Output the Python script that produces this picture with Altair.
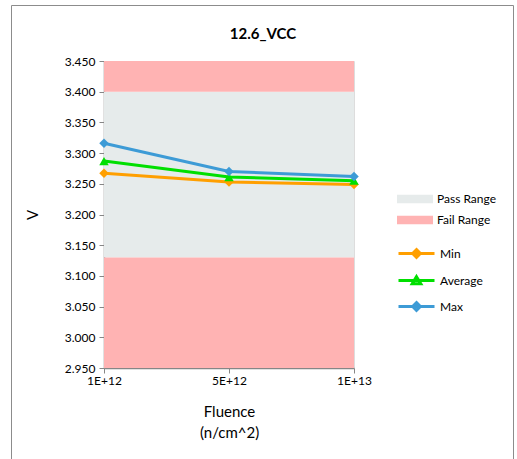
import altair as alt
import pandas as pd

FONT = "Lato"

# Measurements per fluence step
fluence = ["1E+12", "5E+12", "1E+13"]
v_min = [3.267, 3.253, 3.249]
v_avg = [3.287, 3.261, 3.255]
v_max = [3.316, 3.270, 3.262]

series_names = ["Min", "Average", "Max"]
series_colors = ["#ff9f00", "#00df00", "#3d9bd6"]
series_shapes = ["diamond", "triangle-up", "diamond"]

# Pass / fail limit bands
band_names = ["Pass Range", "Fail Range", "Fail Range"]
band_low = [3.13, 2.95, 3.40]
band_high = [3.40, 3.13, 3.45]
band_domain = ["Pass Range", "Fail Range"]
band_colors = ["#e6ebeb", "#ffb3b3"]

y_ticks = [2.95, 3.00, 3.05, 3.10, 3.15, 3.20, 3.25, 3.30, 3.35, 3.40, 3.45]

chart_title = "12.6_VCC"

W, H = 250, 307

rows = []
for name, vals in zip(series_names, [v_min, v_avg, v_max]):
    for f, v in zip(fluence, vals):
        rows.append({"fluence": f, "series": name, "value": v})
df = pd.DataFrame(rows)
bands = pd.DataFrame({"range": band_names, "low": band_low, "high": band_high})

axis_style = dict(
    labelFont=FONT,
    titleFont=FONT,
    labelFontSize=12,
    labelColor="#000000",
    titleColor="#000000",
    titleFontWeight="normal",
    domainColor="#868686",
    domainWidth=1.5,
    tickColor="#868686",
    tickSize=5,
    grid=False,
    labelOverlap=False,
    labelFlush=False,
    labelBound=False,
)

y_scale = alt.Scale(domain=[2.95, 3.45], nice=False, zero=False)
y_axis = alt.Axis(
    title="V",
    values=y_ticks,
    tickCount=11,
    format=".3f",
    labelPadding=4,
    titleFontSize=15,
    titlePadding=24,
    **axis_style,
)
x_enc = alt.X(
    "fluence:N",
    sort=fluence,
    scale=alt.Scale(type="point", padding=0),
    axis=alt.Axis(
        title=["Fluence", "(n/cm^2)"],
        labelAngle=0,
        labelPadding=2,
        titleFontSize=15,
        titlePadding=18,
        titleLineHeight=21,
        **axis_style,
    ),
)

diamond_path = "M-1.5,0H1.5M0,-0.32L0.32,0L0,0.32L-0.32,0Z"
triangle_path = "M-1.5,0H1.5M0,-0.32L0.36,0.28L-0.36,0.28Z"

band_layer = (
    alt.Chart(bands)
    .mark_rect(x=0, x2=W, strokeWidth=0)
    .encode(
        y=alt.Y("low:Q", scale=y_scale, axis=y_axis),
        y2="high:Q",
        fill=alt.Fill(
            "range:N",
            scale=alt.Scale(domain=band_domain, range=band_colors),
            legend=alt.Legend(
                title=None,
                orient="none",
                legendX=299,
                legendY=126,
                symbolType="M-1.5,-0.36H1.5V0.36H-1.5Z",
                symbolSize=576,
                symbolStrokeWidth=0,
                labelOffset=10,
                rowPadding=3,
                labelFontSize=12,
                labelFont=FONT,
                labelColor="#000000",
            ),
        ),
    )
)

line_layer = (
    alt.Chart(df)
    .mark_line(strokeWidth=3)
    .encode(
        x=x_enc,
        y=alt.Y("value:Q", scale=y_scale, axis=y_axis),
        stroke=alt.Stroke(
            "series:N",
            sort=series_names,
            scale=alt.Scale(domain=series_names, range=series_colors),
            legend=alt.Legend(
                title=None,
                orient="none",
                legendX=299,
                legendY=179,
                symbolType=alt.ExprRef(
                    "datum.value === 'Average' ? '"
                    + triangle_path
                    + "' : '"
                    + diamond_path
                    + "'"
                ),
                symbolFillColor=alt.ExprRef("scale('stroke', datum.value)"),
                symbolSize=576,
                symbolStrokeWidth=3,
                labelOffset=10,
                rowPadding=3,
                labelFontSize=12,
                labelFont=FONT,
                labelColor="#000000",
            ),
        ),
        detail="series:N",
    )
)

point_layer = (
    alt.Chart(df)
    .mark_point(filled=True, size=90, opacity=1)
    .encode(
        x=x_enc,
        y=alt.Y("value:Q", scale=y_scale, axis=y_axis),
        color=alt.Color(
            "series:N",
            scale=alt.Scale(domain=series_names, range=series_colors),
            legend=None,
        ),
        shape=alt.Shape(
            "series:N",
            scale=alt.Scale(domain=series_names, range=series_shapes),
            legend=None,
        ),
    )
)

# Chart heading, centred over the whole framed area
title_layer = (
    alt.Chart(pd.DataFrame({"t": [chart_title]}))
    .mark_text(font=FONT, fontSize=15, fontWeight="bold", color="#000000", align="center", baseline="middle")
    .encode(text="t:N", x=alt.value(159), y=alt.value(-27))
)

# Outer chart border
frame = (
    alt.Chart(pd.DataFrame({"k": [0]}))
    .mark_rect(fill=None, fillOpacity=0, stroke="#8c8c8c", strokeWidth=1)
    .encode(
        x=alt.value(-92.5),
        x2=alt.value(409.5),
        y=alt.value(-55.5),
        y2=alt.value(420),
    )
)

chart = (
    alt.layer(band_layer, line_layer, point_layer, title_layer, frame)
    .resolve_scale(color="independent", fill="independent", stroke="independent")
    .properties(
        width=W,
        height=H,
        autosize=alt.AutoSizeParams(type="none"),
        padding={"left": 104, "top": 61, "right": 163, "bottom": 91},
    )
    .configure_view(stroke=None)
    .configure(background="#ffffff")
)

chart.save("out.html", embed_options={"renderer": "svg", "actions": False})
